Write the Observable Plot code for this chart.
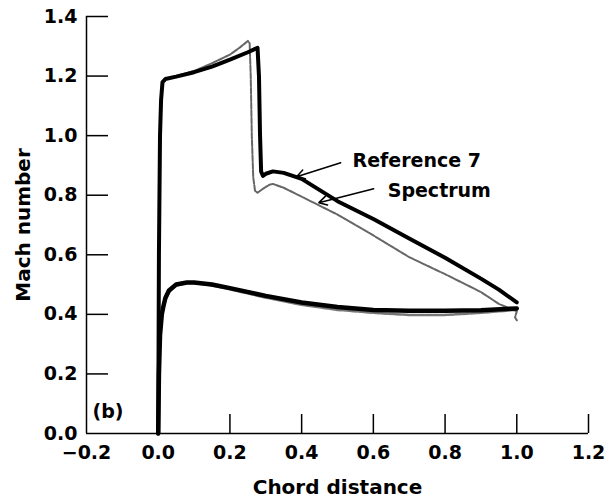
<!DOCTYPE html>
<html>
<head>
<meta charset="utf-8">
<script src="https://cdn.jsdelivr.net/npm/d3@7"></script>
<script src="https://cdn.jsdelivr.net/npm/@observablehq/plot@0.6"></script>
<style>
  html, body { margin: 0; padding: 0; background: #fff; }
  svg { display: block; }
</style>
</head>
<body>
<div id="chart"></div>
<script>
// Tick values
const xTicks = [-0.2, 0.0, 0.2, 0.4, 0.6, 0.8, 1.0, 1.2];
const yTicks = [0.0, 0.2, 0.4, 0.6, 0.8, 1.0, 1.2, 1.4];

// Upper surface, Reference 7
const refUpperX = [0, 0.002, 0.005, 0.008, 0.012, 0.02, 0.05, 0.1, 0.15, 0.2, 0.25, 0.277, 0.281, 0.284, 0.287, 0.292, 0.30, 0.32, 0.35, 0.4, 0.5, 0.6, 0.7, 0.8, 0.9, 0.95, 1.0];
const refUpperM = [0, 0.6, 1.0, 1.12, 1.18, 1.19, 1.198, 1.213, 1.232, 1.255, 1.28, 1.295, 1.2, 1.0, 0.88, 0.865, 0.872, 0.88, 0.875, 0.855, 0.78, 0.72, 0.655, 0.59, 0.52, 0.483, 0.44];

// Upper surface, Spectrum
const specUpperX = [0, 0.002, 0.005, 0.008, 0.012, 0.02, 0.05, 0.1, 0.15, 0.2, 0.23, 0.25, 0.255, 0.258, 0.261, 0.265, 0.27, 0.277, 0.29, 0.31, 0.32, 0.35, 0.4, 0.45, 0.5, 0.6, 0.7, 0.8, 0.9, 0.95, 0.98, 1.0, 0.995, 1.0];
const specUpperM = [0, 0.6, 1.0, 1.12, 1.18, 1.19, 1.20, 1.217, 1.243, 1.272, 1.298, 1.318, 1.31, 1.2, 1.0, 0.86, 0.815, 0.808, 0.82, 0.835, 0.838, 0.825, 0.795, 0.765, 0.735, 0.665, 0.592, 0.535, 0.475, 0.435, 0.42, 0.41, 0.39, 0.38];

// Lower surface, Reference 7
const refLowerX = [0, 0.002, 0.005, 0.01, 0.015, 0.02, 0.03, 0.05, 0.08, 0.1, 0.15, 0.2, 0.3, 0.4, 0.5, 0.6, 0.7, 0.8, 0.9, 1.0];
const refLowerM = [0, 0.2, 0.33, 0.40, 0.43, 0.455, 0.48, 0.50, 0.507, 0.507, 0.50, 0.488, 0.462, 0.44, 0.425, 0.415, 0.412, 0.412, 0.414, 0.42];

// Lower surface, Spectrum
const specLowerX = [0, 0.002, 0.005, 0.01, 0.015, 0.02, 0.03, 0.05, 0.08, 0.1, 0.15, 0.2, 0.3, 0.4, 0.5, 0.6, 0.7, 0.8, 0.9, 1.0];
const specLowerM = [0, 0.19, 0.32, 0.39, 0.425, 0.45, 0.475, 0.497, 0.505, 0.505, 0.497, 0.484, 0.456, 0.432, 0.415, 0.405, 0.398, 0.398, 0.405, 0.415];

// Annotations
const labelText = ["Reference 7", "Spectrum"];
const labelX = [0.542, 0.64];
const labelY = [0.916, 0.815];
const arrowX1 = [0.509, 0.601];
const arrowY1 = [0.909, 0.822];
const arrowX2 = [0.386, 0.448];
const arrowY2 = [0.862, 0.775];

const rows = (xs, ms) => xs.map((x, i) => ({x, m: ms[i]}));
const labels = labelText.map((t, i) => ({t, x: labelX[i], y: labelY[i]}));
const arrows = arrowX1.map((x1, i) => ({x1, y1: arrowY1[i], x2: arrowX2[i], y2: arrowY2[i]}));

const W = 609, H = 503, ML = 86, MR = 21, MT = 16, MB = 70;
const fmt = d3.format(".1f");

const chart = Plot.plot({
  width: W, height: H,
  marginLeft: ML, marginRight: MR, marginTop: MT, marginBottom: MB,
  x: {domain: [-0.2, 1.2]},
  y: {domain: [0, 1.4]},
  style: {fontFamily: "DejaVu Sans", fontWeight: "bold", fontSize: "19px", background: "white", color: "black", overflow: "visible"},
  marks: [
    // axis lines
    Plot.ruleY([0], {strokeWidth: 1.5}),
    Plot.ruleX([-0.2], {strokeWidth: 1.5}),
    // inward ticks
    Plot.tickX(xTicks.filter(d => d > -0.2), {x: d => d, insetTop: (H - MT - MB) - 19, strokeWidth: 1.5}),
    Plot.tickY(yTicks.filter(d => d > 0), {y: d => d, insetRight: (W - ML - MR) - 22, strokeWidth: 1.5}),
    // tick labels
    Plot.axisX(xTicks, {tickSize: 0, tickPadding: 12, tickFormat: fmt, label: null, fontSize: 19}),
    Plot.axisY(yTicks, {tickSize: 0, tickPadding: 9, tickFormat: fmt, label: null, fontSize: 19}),
    // axis titles
    Plot.text(["Chord distance"], {frameAnchor: "bottom", dy: 60, fontSize: 20}),
    Plot.text(["Mach number"], {frameAnchor: "left", textAnchor: "middle", lineAnchor: "middle", rotate: -90, dx: -63, fontSize: 20}),
    Plot.text(["(b)"], {frameAnchor: "bottom-left", dx: 6, dy: -16, textAnchor: "start", fontSize: 19}),
    // curves
    Plot.line(rows(specLowerX, specLowerM), {x: "x", y: "m", stroke: "#777", strokeWidth: 2.5, strokeDasharray: "6,1.5"}),
    Plot.line(rows(specUpperX, specUpperM), {x: "x", y: "m", stroke: "#666", strokeWidth: 2, strokeDasharray: "6,1.5"}),
    Plot.line(rows(refLowerX, refLowerM), {x: "x", y: "m", stroke: "black", strokeWidth: 4.5}),
    Plot.line(rows(refUpperX, refUpperM), {x: "x", y: "m", stroke: "black", strokeWidth: 4}),
    // annotations
    Plot.arrow(arrows, {x1: "x1", y1: "y1", x2: "x2", y2: "y2", strokeWidth: 1.5, headLength: 9}),
    Plot.text(labels, {x: "x", y: "y", text: "t", textAnchor: "start", fontSize: 19})
  ]
});
document.getElementById("chart").appendChild(chart);
</script>
</body>
</html>
